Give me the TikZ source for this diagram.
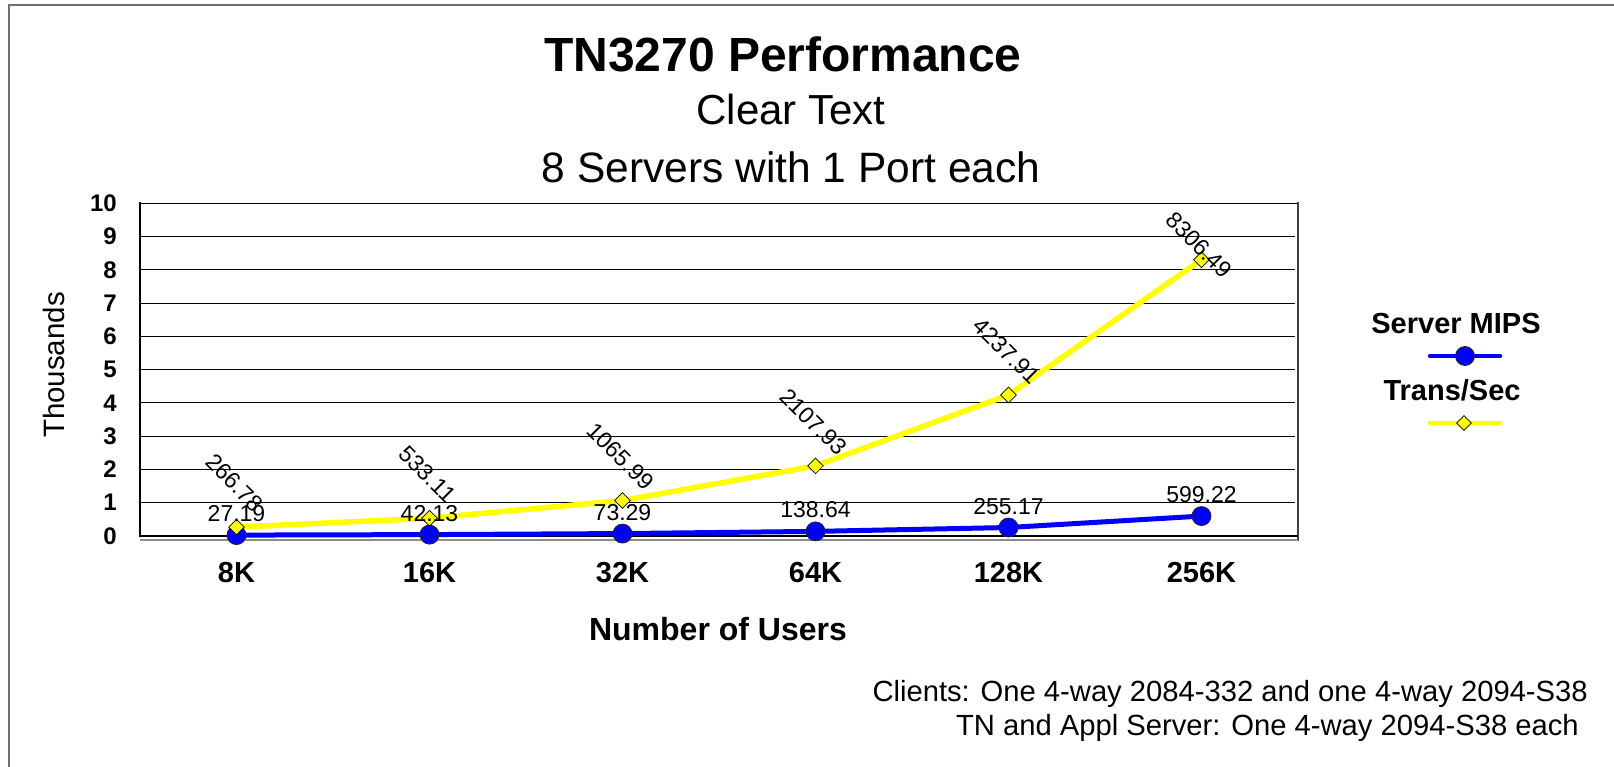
\documentclass[tikz,border=0pt]{standalone}
\usepackage{fontspec}
\setmainfont{Liberation Sans}
\usetikzlibrary{shapes.geometric}
\definecolor{myblue}{RGB}{0,0,255}
\definecolor{myyellow}{RGB}{255,255,0}
\definecolor{framegray}{RGB}{112,112,112}
\newcommand{\setfs}[1]{\fontsize{#1}{#1}\selectfont}
\tikzset{
  gridline/.style={black, line width=1pt},
  mipsmark/.style={circle, fill=myblue, draw=black!85, line width=0.8pt, minimum size=19pt, inner sep=0pt},
  transmark/.style={diamond, fill=myyellow, draw=black, line width=0.7pt, minimum width=16pt, minimum height=16pt, inner sep=0pt},
  mipsline/.style={myblue, line width=5pt, line join=round},
  transline/.style={myyellow, line width=5.5pt, line join=round},
  legline/.style={line width=4.5pt, line cap=round},
  ticklab/.style={font=\bfseries\setfs{24}, anchor=east, inner sep=0pt},
  catlab/.style={font=\bfseries\setfs{29}, anchor=base, inner sep=0pt},
  vallab/.style={font=\setfs{23}, inner sep=0pt},
  titlelab/.style={font=\bfseries\setfs{48}, anchor=base, inner sep=0pt},
  sublab/.style={font=\setfs{42}, anchor=base, inner sep=0pt},
  leglab/.style={font=\bfseries\setfs{29}, anchor=base, inner sep=0pt},
  footlab/.style={font=\setfs{29.2}, anchor=base east, inner sep=0pt}
}
\begin{document}
\begin{tikzpicture}[x=1pt, y=-1pt]
\fill[white] (0,0) rectangle (1614,767);
\useasboundingbox (0,0) rectangle (1614,767);
% outer frame
\draw[framegray, line width=2pt] (8.5,790) -- (8.5,5.5) -- (1640,5.5);
% titles
\node[titlelab] (title) at (783,72) {TN3270 Performance};
\node[sublab] (sub1) at (791,125) {Clear Text};
\node[sublab, font=\setfs{42.5}] (sub2) at (791,183) {8 Servers with 1 Port each};
% grid
\foreach \k in {1,...,9} \draw[gridline] (140,{536-33.27*\k}) -- (1295,{536-33.27*\k});
% plot frame
\draw[black, line width=1.5pt] (140,203.3) -- (1298,203.3);
\draw[black!75, line width=2pt] (1298,202.5) -- (1298,541);
\draw[black!45, line width=1.5pt] (140,539.8) -- (1298,539.8);
\draw[black, line width=2.5pt] (140,202.5) -- (140,537);
\draw[black, line width=2.5pt] (138.8,536) -- (1298,536);
% y tick labels
\foreach \k in {0,...,10} \node[ticklab] (yl\k) at (117,{536-33.27*\k}) {\k};
\node[font=\setfs{29.5}, rotate=90, anchor=base, inner sep=0pt] (ytitle) at (64,365) {Thousands};
% categories
\foreach \lab [count=\i from 0] in {8K,16K,32K,64K,128K,256K}
  \node[catlab] (xl\i) at ({236.5+193*\i},582) {\lab};
\node[font=\bfseries\setfs{32}, anchor=base, inner sep=0pt] (xtitle) at (718,640) {Number of Users};
% data points
\foreach \i/\m/\t in {0/27.19/266.78, 1/42.13/533.11, 2/73.29/1065.99, 3/138.64/2107.93, 4/255.17/4237.91, 5/599.22/8306.49} {
  \coordinate (pm\i) at ({236.5+193*\i},{536-0.03327*\m});
  \coordinate (pt\i) at ({236.5+193*\i},{536-0.03327*\t});
}
\draw[transline] (pt0) -- (pt1) -- (pt2) -- (pt3) -- (pt4) -- (pt5);
\draw[mipsline] (pm0) -- (pm1) -- (pm2) -- (pm3) -- (pm4) -- (pm5);
\foreach \i in {0,...,5} {
  \node[mipsmark] (mm\i) at (pm\i) {};
  \node[transmark] (tm\i) at (pt\i) {};
}
% value labels
\foreach \i/\m in {0/27.19, 1/42.13, 2/73.29, 3/138.64, 4/255.17, 5/599.22}
  \node[vallab, anchor=base] (ml\i) at ([yshift=13.5pt]pm\i) {\m};
\foreach \i/\t in {0/266.78, 1/533.11, 2/1065.99, 3/2107.93, 4/4237.91}
  \node[vallab, rotate=-45] (tl\i) at ([xshift=-2pt,yshift=44pt]pt\i) {\t};
\node[vallab, rotate=-45] (tl5) at (1199,245) {8306.49};
% legend
\node[leglab] (leg1) at (1456,333) {Server MIPS};
\coordinate (la1) at (1430,356);
\coordinate (lb1) at (1500,356);
\draw[legline, myblue] (la1) -- (lb1);
\node[mipsmark] (lm1) at (1465,356) {};
\node[leglab] (leg2) at (1452,400) {Trans/Sec};
\coordinate (la2) at (1430,423);
\coordinate (lb2) at (1500,423);
\draw[legline, myyellow] (la2) -- (lb2);
\node[transmark, minimum width=15pt, minimum height=15pt] (lm2) at (1464,423) {};
% footer
\node[footlab] (foot1) at (1588,701) {Clients: One 4-way 2084-332 and one 4-way 2094-S38};
\node[footlab] (foot2) at (1579,735) {TN and Appl Server: One 4-way 2094-S38 each};
\end{tikzpicture}
\end{document}
